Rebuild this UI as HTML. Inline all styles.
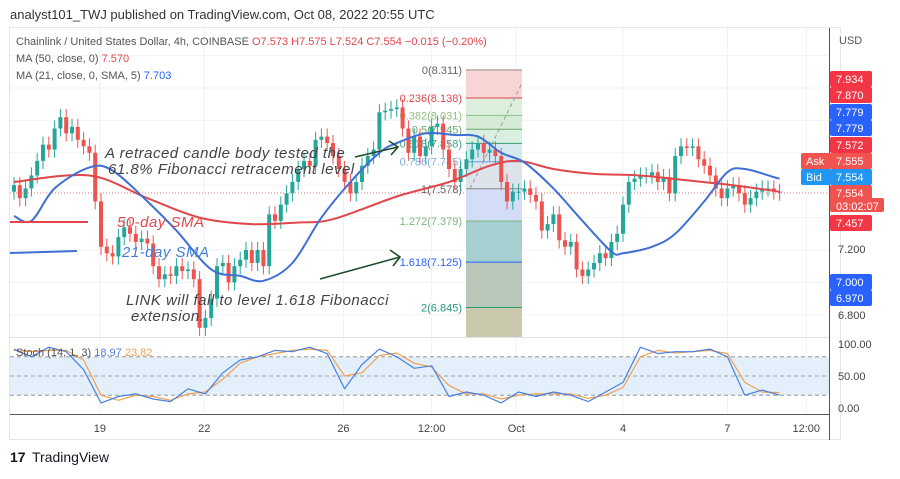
<!DOCTYPE html>
<html><head><meta charset="utf-8"><style>
body{margin:0;background:#fff;font-family:"Liberation Sans",sans-serif;}
svg text{font-family:"Liberation Sans",sans-serif;}
</style></head><body>
<svg id="c" width="900" height="474" xmlns="http://www.w3.org/2000/svg">
<rect x="0" y="0" width="900" height="474" fill="#fff"/>
<text x="10" y="19" font-size="13" fill="#333">analyst101_TWJ published on TradingView.com, Oct 08, 2022 20:55 UTC</text>
<rect x="9.5" y="27.5" width="831" height="412" fill="none" stroke="#e6e6e6"/>
<g id="grid"></g>
<g id="fib"></g>
<g id="candles"></g>
<g id="mas"></g>
<g id="stoch"></g>
<g id="annot">
<text x="16" y="45" font-size="11" fill="#555">Chainlink / United States Dollar, 4h, COINBASE <tspan fill="#e0474c">O7.573 H7.575 L7.524 C7.554 −0.015 (−0.20%)</tspan></text>
<text x="16" y="62" font-size="11" fill="#555">MA (50, close, 0) <tspan fill="#e0474c">7.570</tspan></text>
<text x="16" y="79" font-size="11" fill="#555">MA (21, close, 0, SMA, 5) <tspan fill="#2962ff">7.703</tspan></text>
<g font-style="italic" font-size="15" fill="#444" letter-spacing="0.5">
<text x="105" y="158">A retraced candle body tested the</text>
<text x="108" y="174">61.8% Fibonacci retracement level</text>
<text x="126" y="305">LINK will fall to level 1.618 Fibonacci</text>
<text x="131" y="321">extension.</text>
<text x="117" y="227" fill="#e0474c">50-day SMA</text>
<text x="122" y="257" fill="#3f7fd6">21-day SMA</text>
</g>
<line x1="10" y1="222" x2="88" y2="222" stroke="#e0474c" stroke-width="2"/>
<line x1="10" y1="253" x2="77" y2="251" stroke="#3f6fd6" stroke-width="2"/>
<g stroke="#1e4d2b" stroke-width="1.6" fill="none">
<path d="M355 157 L398 147 M389 141 L398 147 L391 155"/>
<path d="M320 279 L400 257 M390 250 L400 257 L393 266"/>
</g>
</g>
<g id="axis"></g>
<g>
<text x="10" y="462" font-size="14" font-weight="bold" fill="#131722">17</text>
<text x="32" y="462" font-size="14" fill="#131722">TradingView</text>
</g>
</svg>
<script>
const closes=[7.60,7.52,7.58,7.66,7.75,7.85,7.82,7.95,8.02,7.92,7.96,7.88,7.84,7.80,7.50,7.22,7.18,7.16,7.28,7.34,7.30,7.25,7.27,7.24,7.10,7.02,7.05,7.04,7.10,7.07,7.08,7.02,6.72,6.78,6.90,7.10,7.12,7.00,7.10,7.14,7.20,7.12,7.20,7.10,7.42,7.38,7.48,7.55,7.62,7.70,7.75,7.72,7.88,7.90,7.86,7.78,7.70,7.62,7.55,7.62,7.72,7.78,7.82,8.05,8.06,8.07,8.08,7.95,7.80,7.90,7.78,7.84,7.96,7.98,7.82,7.70,7.62,7.70,7.76,7.82,7.86,7.80,7.82,7.78,7.62,7.50,7.56,7.56,7.58,7.54,7.50,7.32,7.36,7.42,7.26,7.22,7.25,7.08,7.04,7.08,7.12,7.18,7.15,7.25,7.30,7.48,7.62,7.64,7.66,7.66,7.68,7.62,7.65,7.55,7.78,7.84,7.83,7.84,7.76,7.72,7.66,7.58,7.52,7.58,7.60,7.55,7.48,7.52,7.56,7.58,7.58,7.56,7.554];
const firstOpen=7.56;
const ma50Idx=[0,13,23,32,41,49,55,66,75,82,87,93,100,108,116,124,132];
const ma50=[7.62,7.66,7.52,7.40,7.36,7.37,7.39,7.53,7.62,7.72,7.75,7.70,7.67,7.66,7.63,7.60,7.56];
const ma21Idx=[0,3,7,13,17,23,28,34,39,43,48,53,58,63,66,71,76,80,84,88,93,98,103,105,110,114,119,123,126,131,132];
const ma21=[7.41,7.38,7.58,7.71,7.69,7.50,7.32,7.08,7.04,7.01,7.12,7.40,7.62,7.80,7.86,7.92,7.91,7.90,7.80,7.74,7.58,7.38,7.19,7.18,7.22,7.30,7.50,7.68,7.70,7.65,7.64];
const stochK=[92,80,95,88,60,8,18,22,14,10,30,22,55,75,80,90,88,95,85,30,68,92,80,62,66,18,25,20,8,25,18,25,20,10,25,40,95,85,88,88,92,80,20,28,20];
const stochD=[90,88,90,90,75,20,12,20,18,12,22,25,45,70,80,85,90,92,90,50,55,82,86,70,64,35,22,22,14,20,22,22,22,15,20,32,80,90,86,88,90,85,40,25,24];
const priceTicks=[6.8,7.0,7.2,7.4,7.6,7.8,8.0,8.2,8.4];
const timeLabels=["19","22","26","12:00","Oct","4","7","12:00"];
const timeIdx=[14.8,32.8,56.8,72,86.6,105,123,136.6];
const fibLevels=[0,0.236,0.382,0.5,0.618,0.786,1,1.272,1.618,2];
const fibPrices=[8.311,8.138,8.031,7.945,7.858,7.745,7.578,7.379,7.125,6.845];

const NS="http://www.w3.org/2000/svg";
const X=i=>14+i*5.8;
const Y=p=>250-(p-7.2)*162;
const SY=v=>408-v*0.64;
function mk(t,a,parent){const e=document.createElementNS(NS,t);for(const k in a)e.setAttribute(k,a[k]);document.getElementById(parent).appendChild(e);return e;}

priceTicks.forEach(p=>{const y=Y(p);if(y>28&&y<337){const l=mk('line',{x1:10,x2:829,y1:y,y2:y,stroke:'#f0f3f7'},'grid');

}});
timeIdx.forEach(i=>{const l=mk('line',{x1:X(i),x2:X(i),y1:28,y2:414,stroke:'#eef1f5'},'grid');

});
{const l=mk('line',{x1:10,x2:829,y1:193,y2:193,stroke:'#e0474c','stroke-dasharray':'1 2','stroke-width':0.8},'grid');

}

const fx1=466,fx2=522;
const fibFill=['#f8d4d4','#dcefdc','#d5ebd5','#d9efe0','#d4e8ef','#dde3ea','#d3ddf7','#a6cfd2','#b9c7b9','#cac9ad'];
const fibLine=['#999','#e0474c','#8cc08c','#6aa86a','#3a9a7a','#6aa0e0','#888','#7cb87c','#2962ff','#2a9a6a'];
const fibTxt=['#666','#e0474c','#8dbf7a','#6aa86a','#4aa08a','#7aaee0','#666','#7cb87c','#2962ff','#2a9a7a'];
{const r=mk('rect',{x:fx1,y:69,width:fx2-fx1,height:Y(fibPrices[0])-69,fill:'#f8d4d4'},'fib');

}
for(let k=0;k<fibPrices.length;k++){
 if(k>0){const yA=Y(fibPrices[k-1]),yB=Y(fibPrices[k]);
 const r=mk('rect',{x:fx1,y:yA,width:fx2-fx1,height:yB-yA,fill:fibFill[k-1]},'fib');
 
 }
}
{const last=Y(fibPrices[fibPrices.length-1]);
const r2=mk('rect',{x:fx1,y:last,width:fx2-fx1,height:337-last,fill:'#cac9ad'},'fib');

}
for(let k=0;k<fibPrices.length;k++){
 const l=mk('line',{x1:fx1,x2:fx2,y1:Y(fibPrices[k]),y2:Y(fibPrices[k]),stroke:fibLine[k]},'fib');
 
 
 const t=mk('text',{x:462,y:Y(fibPrices[k])+4,'font-size':11,'text-anchor':'end',fill:fibTxt[k]},'fib');
 t.textContent=fibLevels[k]+'('+fibPrices[k].toFixed(3)+')';
 
 
}
{const d=mk('line',{x1:470,y1:Y(fibPrices[6]),x2:522,y2:83,stroke:'#999','stroke-dasharray':'4 3'},'fib');

}

for(let i=0;i<closes.length;i++){
 const o=i?closes[i-1]:firstOpen,c=closes[i];
 const hi=Math.max(o,c)+0.05,lo=Math.min(o,c)-0.05;
 const col=c>=o?'#26a69a':'#ef5350';
 const w=mk('line',{x1:X(i),x2:X(i),y1:Y(hi),y2:Y(lo),stroke:col,'stroke-width':1},'candles');
 
 
 const yt=Y(Math.max(o,c)),yb=Y(Math.min(o,c));
 const b=mk('rect',{x:X(i)-2,y:yt,width:4,height:Math.max(1,yb-yt),fill:col},'candles');
 
 
}
function line(idx,vals,col,name,yf,xf,parent,w,smooth){
 const P=vals.map((v,k)=>[xf(idx[k]),yf(v)]);
 let d='M'+P[0][0].toFixed(1)+' '+P[0][1].toFixed(1);
 for(let k=0;k<P.length-1;k++){
  if(smooth){const p0=P[Math.max(0,k-1)],p1=P[k],p2=P[k+1],p3=P[Math.min(P.length-1,k+2)];
   const c1=[p1[0]+(p2[0]-p0[0])/6,p1[1]+(p2[1]-p0[1])/6],c2=[p2[0]-(p3[0]-p1[0])/6,p2[1]-(p3[1]-p1[1])/6];
   d+=' C'+c1[0].toFixed(1)+' '+c1[1].toFixed(1)+' '+c2[0].toFixed(1)+' '+c2[1].toFixed(1)+' '+p2[0].toFixed(1)+' '+p2[1].toFixed(1);}
  else d+=' L'+P[k+1][0].toFixed(1)+' '+P[k+1][1].toFixed(1);
 }
 const p=mk('path',{d:d,fill:'none',stroke:col,'stroke-width':w,'stroke-linejoin':'round'},parent);
 
 
}
line(ma50Idx,ma50,'#e0474c','ma50-line',Y,X,'mas',2,true);
line(ma21Idx,ma21,'#3f6fd6','ma21-line',Y,X,'mas',2,true);

{const s=mk('line',{x1:10,x2:829,y1:337.5,y2:337.5,stroke:'#e0e3eb'},'stoch');


const band=mk('rect',{x:10,y:SY(80),width:819,height:SY(20)-SY(80),fill:'#e3f0fc'},'stoch');


[80,50,20].forEach(v=>{const l=mk('line',{x1:10,x2:829,y1:SY(v),y2:SY(v),stroke:'#888','stroke-dasharray':'4 3','stroke-width':0.8},'stoch');

});}
const sIdx=stochK.map((_,k)=>k*3);
line(sIdx,stochD,'#f0a050','stoch-d-line',SY,X,'stoch',1.2,false);
line(sIdx,stochK,'#4a7fe0','stoch-k-line',SY,X,'stoch',1.2,false);
{const t=mk('text',{x:16,y:356,'font-size':11,fill:'#555'},'stoch');
t.innerHTML='Stoch (14, 1, 3) <tspan fill="#4a7fe0">18.97</tspan> <tspan fill="#f0a050">23.82</tspan>';

}

{const a=mk('line',{x1:829.5,x2:829.5,y1:28,y2:440,stroke:'#555'},'axis');


const b=mk('line',{x1:10,x2:829,y1:414.5,y2:414.5,stroke:'#555'},'axis');


const u=mk('text',{x:839,y:44,'font-size':11,fill:'#555'},'axis');u.textContent='USD';

}
timeLabels.forEach((s,k)=>{const t=mk('text',{x:X(timeIdx[k]),y:432,'font-size':11,fill:'#444','text-anchor':'middle'},'axis');t.textContent=s;

});
const flags=[["7.934",79,'#f23645'],["7.870",95,'#f23645'],["7.779",112,'#2962ff'],["7.779",128,'#2962ff'],["7.572",145,'#f23645'],["7.555",161,'#f05350'],["7.554",177,'#2196f3'],["7.554",193,'#ef5350'],["03:02:07",206,'#ef5350'],["7.457",223,'#f23645'],["7.000",282,'#2962ff'],["6.970",298,'#2962ff']];
flags.forEach(f=>{const w=f[0].length>5?54:42;const r=mk('rect',{x:830,y:f[1]-8,width:w,height:f[0].length>5?14:16,fill:f[2],rx:2},'axis');


const t=mk('text',{x:836,y:f[1]+4,'font-size':11,fill:'#fff'},'axis');t.textContent=f[0];

});
[["Ask",161,'#f05350'],["Bid",177,'#2196f3']].forEach(f=>{const r=mk('rect',{x:801,y:f[1]-8,width:30,height:16,fill:f[2],rx:2},'axis');


const t=mk('text',{x:806,y:f[1]+4,'font-size':11,fill:'#fff'},'axis');t.textContent=f[0];

});
[["7.200",253],["6.800",319],["100.00",348],["50.00",380],["0.00",412]].forEach(f=>{const t=mk('text',{x:838,y:f[1],'font-size':11,fill:'#444'},'axis');t.textContent=f[0];

});
</script>
</body></html>
